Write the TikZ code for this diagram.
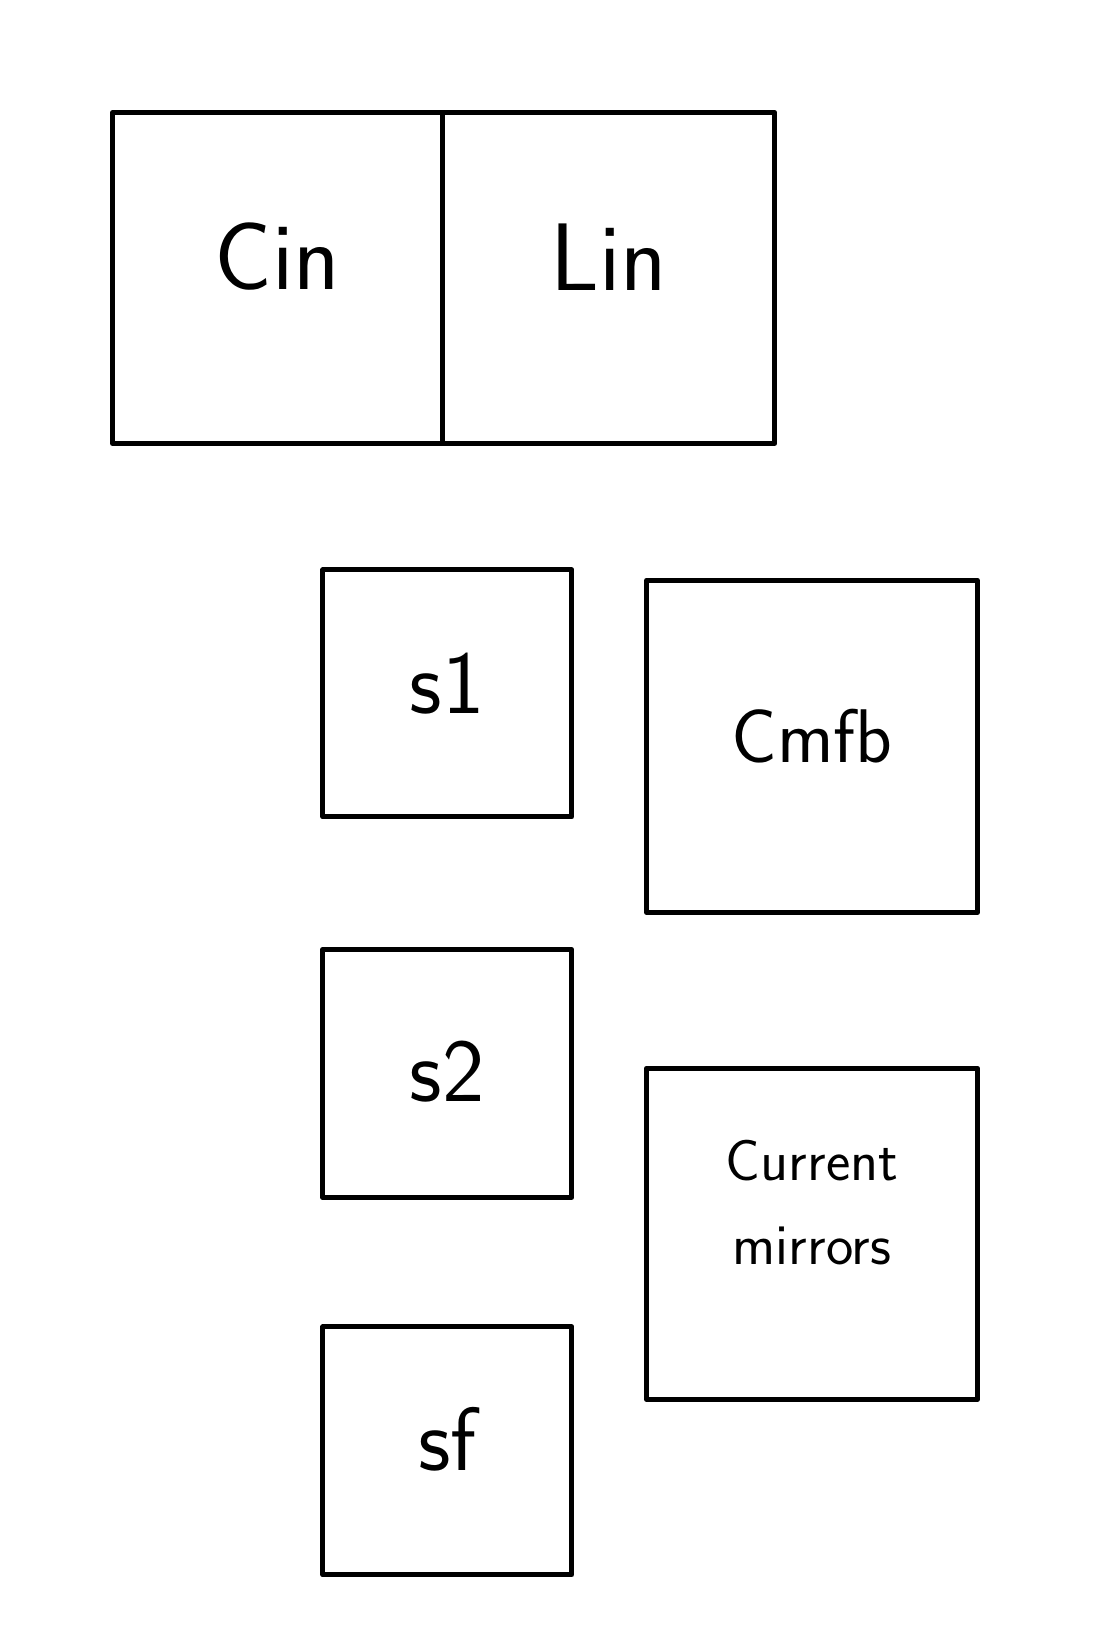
\documentclass[tikz,border=0pt]{standalone}

\begin{document}
\begin{tikzpicture}[x=1pt, y=-1pt, line width=5pt,
  block/.style={draw, rectangle, inner sep=0pt, line join=round},
  every label/.style={inner sep=0pt, align=center,
    font=\sffamily\fontsize{90}{100}\selectfont}]
  \useasboundingbox (0,0) rectangle (1107,1649);

  % top pair
  \node[block, minimum width=330pt, minimum height=331pt,
    label={[yshift=21pt, font=\sffamily\fontsize{96}{100}\selectfont]center:Cin}]
    (Cin) at (277.5,278) {};
  \node[block, minimum width=332pt, minimum height=331pt,
    label={[yshift=21pt, font=\sffamily\fontsize{96}{100}\selectfont]center:Lin}]
    (Lin) at (608.7,278) {};

  % left column
  \node[block, minimum width=249pt, minimum height=247pt,
    label={[yshift=10pt]center:s1}] (S1) at (447.3,693.4) {};
  \node[block, minimum width=249pt, minimum height=248pt,
    label={[yshift=2pt]center:s2}] (S2) at (447.3,1073.4) {};
  \node[block, minimum width=249pt, minimum height=248pt,
    label={[yshift=12pt]center:sf}] (SF) at (447.3,1450.8) {};

  % right column
  \node[block, minimum width=331pt, minimum height=332pt,
    label={[yshift=10pt, font=\sffamily\fontsize{76}{90}\selectfont]center:Cmfb}]
    (Cmfb) at (812,746.4) {};
  \node[block, minimum width=331pt, minimum height=331pt,
    label={[yshift=31pt, font=\sffamily\fontsize{58}{84}\selectfont]center:Current\\mirrors}]
    (CM) at (812,1233.7) {};
\end{tikzpicture}
\end{document}
